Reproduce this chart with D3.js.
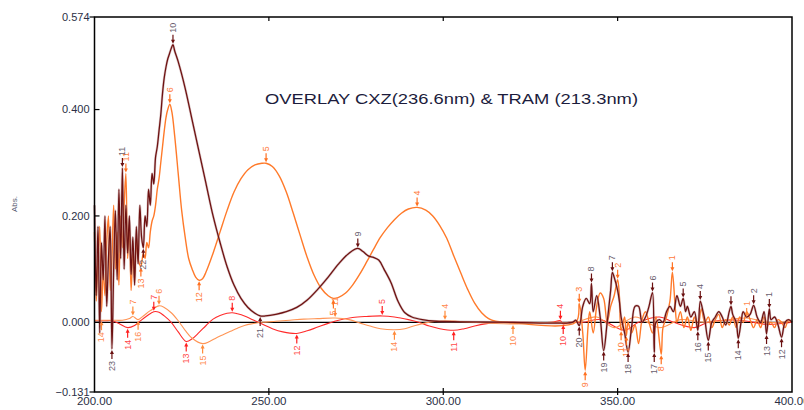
<!DOCTYPE html>
<html><head><meta charset="utf-8">
<script src="https://cdnjs.cloudflare.com/ajax/libs/d3/7.8.5/d3.min.js"></script>
<style>
html,body{margin:0;padding:0;background:#fff;}
svg{display:block;font-family:"Liberation Sans",Arial,sans-serif;}
</style></head>
<body><svg id="chart" width="804" height="410"></svg>
<script>
// ---------- data ----------
const xTicks = [200, 250, 300, 350, 400];
const yTicks = [-0.131, 0.000, 0.200, 0.400, 0.574];
const titleText = "OVERLAY CXZ(236.6nm) & TRAM (213.3nm)";

// CXZ zero-order spectrum (dark brown)
const cxzSpectrum = [
[200,0.22],[200.5,0.05],[201,0.18],[201.5,-0.02],[202,0.15],[202.5,0.08],[203,0.20],[203.5,0.03],[204,0.12],[204.5,0.18],
[205,-0.05],[205.5,0.10],[206,0.21],[206.5,0.08],[207,0.25],[207.5,0.12],[208,0.29],[208.5,0.10],[209,0.22],[209.5,0.13],
[210,0.20],[210.5,0.09],[211,0.16],[211.5,0.07],[212,0.18],[212.5,0.11],[213,0.22],[213.5,0.16],[214,0.14],[214.5,0.20],
[215,0.18],[215.5,0.25],[216,0.22],[216.5,0.28],[217,0.26],[217.5,0.31],[218,0.33],[218.5,0.36],[219,0.39],[219.5,0.43],
[220,0.46],[220.5,0.48],[221,0.495],[221.5,0.505],[222,0.515],[222.5,0.522],[223,0.51],[224,0.49],[226,0.44],[228,0.38],
[230,0.32],[232,0.26],[234,0.20],[236,0.15],[238,0.105],[240,0.07],[242,0.045],[244,0.028],[246,0.017],
[247.5,0.012],[249,0.012],[252,0.015],[255,0.02],[258,0.028],[261,0.042],[264,0.062],[267,0.085],[270,0.11],[273,0.13],
[275.5,0.139],[277,0.133],[278.5,0.125],[280,0.122],[281.5,0.117],[283,0.10],[285,0.075],[287,0.04],[289,0.018],[291,0.01],
[294,0.005],[298,0.002],[305,0.001],[320,0.0],[337,0.0],[338,0.004],[339,-0.006],[340,0.03],[341,0.045],[342,0.035],
[342.5,0.073],[343,0.02],[344,0.05],[345,0.01],[346,-0.053],[347,0.0],[348,0.06],[348.5,0.094],[349,0.085],[350,0.06],
[350.5,0.04],[351,0.01],[352,-0.02],[353,-0.056],[354,-0.01],[355,0.03],[356,0.03],[357,0.0],[358,0.01],[359,0.03],
[360,0.056],[360.5,-0.056],[361,0.0],[362,0.005],[363,0.0],[364,0.02],[365,0.03],[366,0.02],[367,0.05],[368,0.03],
[368.8,0.045],[369.5,0.02],[370,0.03],[371,0.01],[372,0.02],[373,-0.015],[373.7,0.04],[374.5,0.02],[375,0.005],[376,-0.034],
[377,0.0],[378,0.01],[379,0.02],[380,0.01],[381,-0.005],[382,0.02],[382.5,0.03],[383,0.015],[384,0.0],[384.6,-0.03],
[385.5,0.005],[386,0.02],[387,0.01],[388,0.015],[389,0.032],[390,0.01],[391,0.0],[392,0.02],[392.7,-0.022],[393.5,0.025],
[394,0.005],[395,0.01],[396,-0.005],[397,-0.028],[398,0.0],[399,0.005],[400,0.0]
];

// TRAM zero-order spectrum (orange)
const tramSpectrum = [
[200,0.17],[200.5,0.04],[201,0.12],[201.5,0.18],[202,0.02],[202.5,0.10],[203,0.05],[203.5,0.15],[204,0.20],[204.5,0.06],
[205,0.12],[205.5,0.22],[206,0.10],[206.5,0.17],[207,0.07],[207.5,0.20],[208,0.14],[208.5,0.22],[209,0.28],[209.5,0.12],
[210,0.18],[210.5,0.06],[211,0.13],[211.5,0.08],[212,0.16],[212.5,0.12],[213.3,0.105],[214,0.13],[214.5,0.12],[215,0.15],
[215.5,0.14],[216,0.17],[216.5,0.19],[217,0.20],[217.5,0.22],[218,0.25],[218.5,0.27],[219,0.30],[219.5,0.33],[220,0.36],
[220.5,0.385],[221,0.40],[221.6,0.41],[222.2,0.395],[223,0.35],[224,0.28],[225,0.21],[226,0.16],[227,0.12],[228,0.10],
[229,0.085],[230,0.079],[231,0.082],[232,0.095],[234,0.13],[236,0.17],[238,0.21],[240,0.245],[242,0.27],[244,0.287],
[246,0.296],[248,0.299],[249.2,0.299],[251,0.293],[253,0.275],[255,0.245],[257,0.205],[259,0.163],[261,0.122],[263,0.088],
[265,0.064],[267,0.05],[268.5,0.045],[270,0.047],[272,0.055],[274,0.07],[276,0.09],[278,0.113],[280,0.137],[282,0.16],
[284,0.178],[286,0.193],[288,0.205],[290,0.213],[292.5,0.216],[295,0.211],[297,0.2],[299,0.182],[301,0.158],[303,0.125],
[305,0.093],[307,0.062],[309,0.036],[311,0.018],[313,0.007],[315,0.002],[318,0.0],[338,0.0],[339,0.035],[340,-0.02],
[340.7,-0.09],[341.5,-0.01],[342,0.02],[343,-0.02],[344,0.03],[345,0.055],[346,0.045],[347,0.0],[348,0.03],[349,0.05],
[350,0.08],[350.5,0.05],[351,-0.015],[352,0.01],[352.5,-0.025],[353,0.0],[354,-0.02],[355,-0.005],[356,-0.04],[357,0.005],
[358,0.02],[359,0.0],[360,-0.02],[361,0.01],[362.5,-0.06],[363,-0.01],[364,0.01],[365,0.04],[365.7,0.094],[366.5,0.03],
[367,0.0],[368,0.02],[369,-0.01],[370,0.01],[371,-0.015],[372,0.01],[373,-0.01],[374,0.025],[375,0.0],[376,0.01],
[377,-0.01],[378,0.005],[379,0.015],[380,-0.01],[381,0.005],[382,-0.005],[383,0.01],[384,-0.01],[385,0.01],[386,0.0],
[387,0.02],[388,0.005],[389,-0.01],[390,0.005],[391,-0.01],[392,0.01],[393,-0.005],[394,0.0],[395,-0.01],[396,0.005],
[397,0.0],[398,-0.01],[399,0.005],[400,0.0]
];

// CXZ derivative (red)
const cxzDerivative = [
[200,0.003],[203,0.003],[205,0.003],[207,-0.002],[209.5,-0.01],[211.5,-0.006],[213,0.002],[215,0.012],[217,0.02],[218.5,0.019],
[220,0.012],[222,0.0],[224,-0.018],[226.3,-0.036],[228,-0.031],[230,-0.019],[232,-0.006],[234,0.006],[236,0.013],[238,0.017],
[239.5,0.018],[241,0.016],[243,0.012],[245,0.006],[247,0.0],[249,-0.006],[251,-0.012],[254,-0.018],[258,-0.021],[261,-0.016],
[264,-0.009],[267,-0.002],[270,0.004],[274,0.009],[278,0.011],[282.5,0.012],[286,0.01],[290,0.005],[293,0.0],[296,-0.007],
[299,-0.012],[303,-0.015],[306,-0.012],[309,-0.007],[312,-0.003],[316,0.0],[331,0.0],[333.6,0.003],[334.4,-0.003],[336,0.0],
[340,0.0],[345,0.005],[352,-0.015],[356,0.0],[362,0.01],[366,0.0],[372,-0.01],[376,0.0],[385,0.004],[393,-0.004],[400,0.0]
];

// TRAM derivative (light orange)
const tramDerivative = [
[200,0.004],[202,0.004],[205,0.004],[208,0.004],[210,0.007],[211,0.011],[212.5,0.005],[214,0.012],[216,0.022],[218.5,0.031],
[220,0.028],[222,0.018],[224,0.003],[226,-0.015],[228,-0.03],[231,-0.04],[233,-0.036],[235,-0.029],[237,-0.023],[239,-0.017],
[241,-0.011],[243,-0.006],[245,-0.003],[248,0.0],[252,0.002],[256,0.004],[260,0.006],[264,0.007],[269,0.008],[273,0.005],
[276,-0.001],[279,-0.007],[282,-0.012],[286,-0.014],[289,-0.012],[292,-0.006],[295,-0.001],[298,0.002],[300.5,0.003],[304,0.002],
[308,0.0],[314,-0.002],[320,-0.003],[326,-0.001],[332,0.0],[338,0.0],[344,0.01],[349,-0.01],[355,0.01],[362,-0.01],
[368,0.005],[375,0.0],[387,0.008],[393,0.0],[400,0.002]
];

// peak / valley pick labels: [wavelength, label, "up" = peak, "dn" = valley]
const cxzPicks = [
[205,"23","dn"],[208,"11","up"],[214,"22","dn"],[222.5,"10","up"],[247.5,"21","dn"],[275.5,"9","up"],
[339,"20","dn"],[342.5,"8","up"],[346,"19","dn"],[348.5,"7","up"],[353,"18","dn"],[360,"6","up"],[360.5,"17","dn"],
[368.8,"5","up"],[373,"16","dn"],[373.7,"4","up"],[376,"15","dn"],[382.5,"3","up"],[384.6,"14","dn"],[389,"2","up"],
[392.7,"13","dn"],[393.5,"1","up"],[397,"12","dn"]
];
const tramPicks = [
[209,"11","up"],[213.3,"13","dn"],[221.6,"6","up"],[230,"12","dn"],[249.2,"5","up"],[268.5,"5","dn"],[292.5,"4","up"],
[339,"3","up"],[340.7,"9","dn"],[350,"2","up"],[351,"10","dn"],[352.5,"11","dn"],[362.5,"8","dn"],[365.7,"1","up"]
];
const cxzDerivPicks = [
[209.5,"14","dn"],[217,"7","up"],[226.3,"13","dn"],[239.5,"8","up"],[258,"12","dn"],[282.5,"5","up"],[303,"11","dn"],
[333.6,"4","up"],[334.4,"10","dn"]
];
const tramDerivPicks = [
[202,"14","dn"],[211,"7","up"],[212.5,"16","dn"],[218.5,"6","up"],[231,"15","dn"],[269,"11","up"],[286,"14","dn"],
[300.5,"4","up"],[320,"10","dn"],[387,"1","up"]
];

// ---------- drawing ----------
const svg = d3.select("#chart");
const x = d3.scaleLinear().domain([200, 400]).range([94.5, 792]);
const y = d3.scaleLinear().domain([-0.131, 0.574]).range([392, 17]);

const axisColor = "#000";
const tickTextColor = "#2b2f45";

// zero line
svg.append("line").attr("x1", x(200)).attr("x2", x(400)).attr("y1", y(0)).attr("y2", y(0))
  .attr("stroke", "#000").attr("stroke-width", 1.2);

const line = d3.line().x(d => x(d[0])).y(d => y(d[1])).curve(d3.curveCatmullRom.alpha(0.5));

function valueAt(series, nm) {
  for (let i = 0; i < series.length - 1; i++) {
    const a = series[i], b = series[i + 1];
    if (nm >= a[0] && nm <= b[0]) {
      const t = (nm - a[0]) / (b[0] - a[0] || 1);
      return a[1] + t * (b[1] - a[1]);
    }
  }
  return series[series.length - 1][1];
}

function drawSeries(series, color, width, halo) {
  if (halo) {
    svg.append("path").attr("d", line(series)).attr("fill", "none")
      .attr("stroke", halo).attr("stroke-width", width + 1.2).attr("stroke-opacity", 0.45)
      .attr("stroke-linejoin", "round");
  }
  svg.append("path").attr("d", line(series)).attr("fill", "none")
    .attr("stroke", color).attr("stroke-width", width).attr("stroke-linejoin", "round");
}

function drawPicks(series, picks, arrowColor, textColor) {
  const g = svg.append("g");
  picks.forEach(p => {
    const px = x(p[0]);
    const py = y(valueAt(series, p[0]));
    if (p[2] === "up") {
      g.append("line").attr("x1", px).attr("x2", px).attr("y1", py - 10).attr("y2", py - 3)
        .attr("stroke", arrowColor).attr("stroke-width", 1.2);
      g.append("path").attr("d", `M${px - 2},${py - 5}L${px + 2},${py - 5}L${px},${py - 1}Z`).attr("fill", arrowColor);
      g.append("text").attr("transform", `translate(${px},${py - 12}) rotate(-90)`)
        .attr("text-anchor", "start").attr("dominant-baseline", "central")
        .attr("font-size", 9).attr("fill", textColor).text(p[1]);
    } else {
      g.append("line").attr("x1", px).attr("x2", px).attr("y1", py + 3).attr("y2", py + 10)
        .attr("stroke", arrowColor).attr("stroke-width", 1.2);
      g.append("path").attr("d", `M${px - 2},${py + 5}L${px + 2},${py + 5}L${px},${py + 1}Z`).attr("fill", arrowColor);
      g.append("text").attr("transform", `translate(${px},${py + 12}) rotate(-90)`)
        .attr("text-anchor", "end").attr("dominant-baseline", "central")
        .attr("font-size", 9).attr("fill", textColor).text(p[1]);
    }
  });
}

drawSeries(cxzDerivative, "#ff2b2b", 1.1);
drawSeries(tramDerivative, "#ff9555", 1.1);
drawSeries(tramSpectrum, "#ff7a2a", 1.4);
drawSeries(cxzSpectrum, "#6e1212", 1.3, "#b48a8a");

drawPicks(cxzDerivative, cxzDerivPicks, "#ff2020", "#ff4a4a");
drawPicks(tramDerivative, tramDerivPicks, "#ff8a3a", "#ff8a50");
drawPicks(tramSpectrum, tramPicks, "#ff7020", "#ff7a3a");
drawPicks(cxzSpectrum, cxzPicks, "#6a1010", "#6a5e6e");

// frame (plot border)
svg.append("rect").attr("x", x(200)).attr("y", y(0.574)).attr("width", x(400) - x(200)).attr("height", y(-0.131) - y(0.574))
  .attr("fill", "none").attr("stroke", axisColor).attr("stroke-width", 1.5);

// y ticks and labels
yTicks.forEach(v => {
  const inner = v !== 0.574 && v !== -0.131;
  svg.append("line").attr("x1", inner ? x(200) : x(200) - 5).attr("x2", inner ? x(200) + 5 : x(200))
    .attr("y1", y(v)).attr("y2", y(v)).attr("stroke", axisColor).attr("stroke-width", 1.2);
  svg.append("text").attr("x", x(200) - 5).attr("y", y(v)).attr("dy", "0.35em")
    .attr("text-anchor", "end").attr("font-size", 11).attr("fill", tickTextColor)
    .text(d3.format(".3f")(v));
});

// x ticks and labels
xTicks.forEach(v => {
  const inner = v !== 200 && v !== 400;
  if (inner) {
    svg.append("line").attr("x1", x(v)).attr("x2", x(v)).attr("y1", y(-0.131) - 4).attr("y2", y(-0.131) + 3)
      .attr("stroke", axisColor).attr("stroke-width", 1.2);
    svg.append("line").attr("x1", x(v)).attr("x2", x(v)).attr("y1", y(0.574)).attr("y2", y(0.574) + 4)
      .attr("stroke", axisColor).attr("stroke-width", 1.2);
  }
  svg.append("text").attr("x", x(v)).attr("y", 405).attr("text-anchor", "middle")
    .attr("font-size", 11.5).attr("fill", tickTextColor).text(d3.format(".2f")(v));
});

// axis titles
svg.append("text").attr("x", x(300)).attr("y", 416).attr("text-anchor", "middle")
  .attr("font-size", 10).attr("fill", tickTextColor).text("nm");
svg.append("text").attr("transform", "translate(17,204) rotate(-90)").attr("text-anchor", "middle")
  .attr("font-size", 8).attr("fill", "#555a70").text("Abs.");

// title
svg.append("text").attr("x", 265).attr("y", 104).attr("font-size", 15.5).attr("fill", "#1c1c3c")
  .attr("textLength", 373).attr("lengthAdjust", "spacingAndGlyphs")
  .text(titleText);
</script>
</body></html>
